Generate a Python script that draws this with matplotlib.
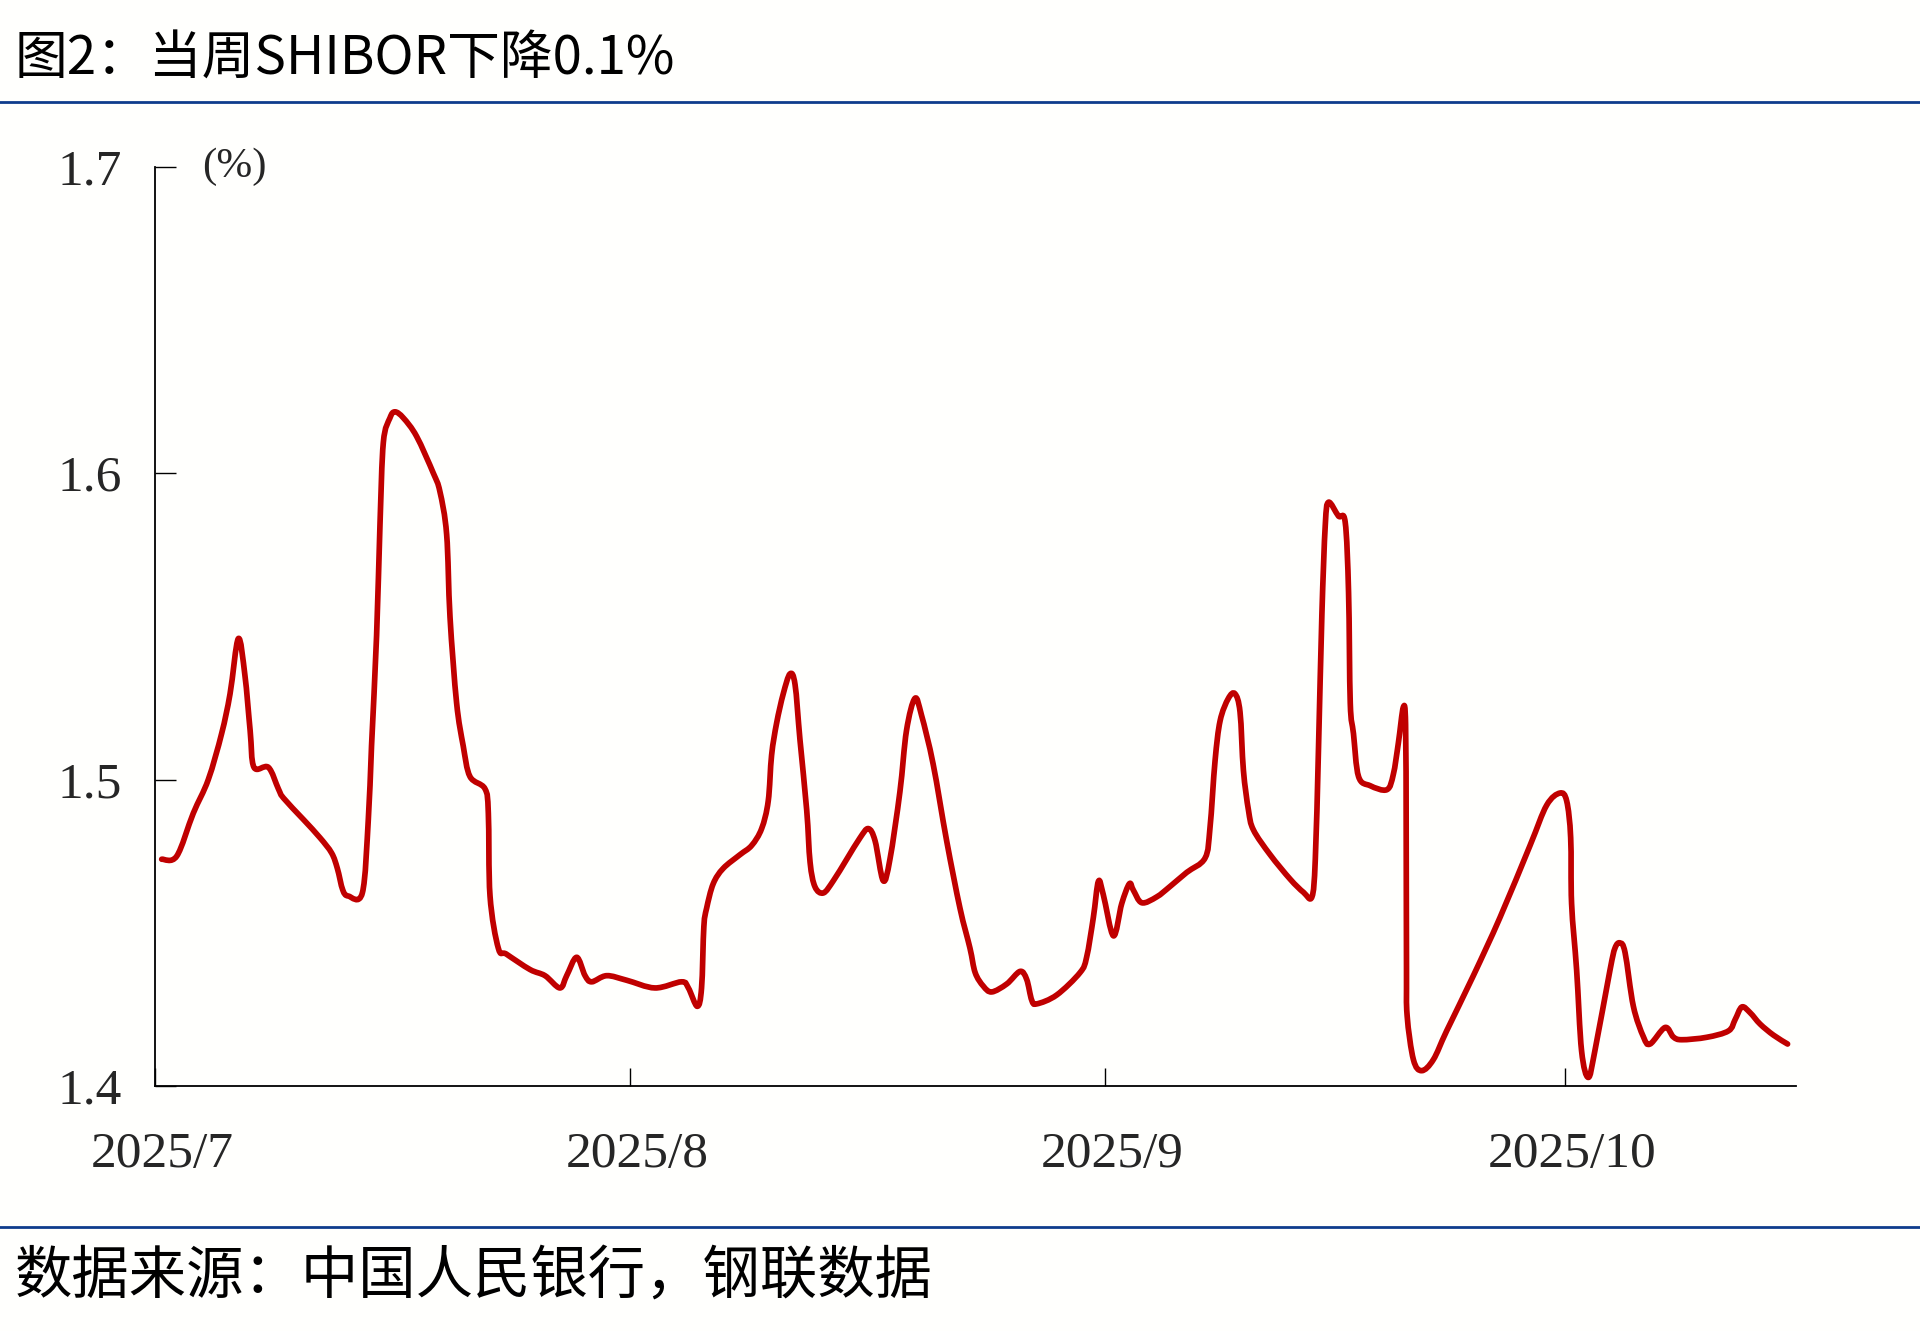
import matplotlib
matplotlib.use("Agg")
import matplotlib.pyplot as plt
import matplotlib.dates as mdates
import matplotlib.transforms as mtransforms
from matplotlib.path import Path
from matplotlib.patches import PathPatch
import datetime as dt

# ---- data ----
start_date = "2025-07-01"
day_offset = [
    0.43, 1.41, 2.49, 3.47, 4.34, 4.89, 5.43, 5.86, 6.20, 6.45, 7.39, 8.04, 8.37,
    9.67, 10.76, 11.52, 11.89, 12.24, 12.60, 13.52, 13.91, 14.12, 14.45, 14.67,
    14.89, 15.32, 15.65, 16.20, 17.06, 18.15, 18.58, 19.02, 19.24, 19.67, 20.10,
    20.54, 21.52, 21.74, 21.85, 22.39, 22.93, 24.46, 25.44, 26.41, 26.85, 27.50,
    28.05, 28.48, 29.46, 30.77, 32.61, 34.35, 34.79, 35.37, 35.65, 35.80, 35.98,
    36.41, 37.06, 38.16, 38.92, 39.57, 40.00, 40.22, 40.55, 40.98, 41.42, 41.75,
    42.07, 42.51, 42.73, 43.05, 43.60, 44.25, 45.12, 45.99, 46.53, 46.97, 47.50,
    47.94, 48.59, 49.02, 49.57, 50.00, 50.76, 51.64, 52.51, 53.16, 53.50, 54.03,
    54.58, 55.56, 56.43, 56.86, 57.19, 57.52, 58.82, 60.34, 60.77, 61.21, 61.54,
    61.86, 62.52, 63.06, 63.56, 63.82, 64.37, 65.34, 66.21, 67.30, 68.50, 68.82,
    69.15, 69.48, 70.02, 70.45, 70.78, 71.00, 71.33, 71.65, 72.74, 74.05, 74.92,
    75.47, 75.69, 75.90, 76.12, 76.34, 76.55, 77.20, 77.64, 77.86, 77.97, 78.18,
    78.51, 79.27, 80.36, 80.78, 81.11, 81.43, 81.58, 81.62, 81.64, 81.68, 82.09,
    82.63, 83.39, 84.26, 86.00, 87.74, 89.70, 90.78, 91.65, 92.09, 92.35, 92.41,
    92.74, 93.06, 93.50, 93.93, 94.91, 95.24, 95.57, 95.90, 96.44, 97.10, 97.53,
    98.51, 99.05, 99.60, 101.23, 102.65, 103.08, 103.52, 104.06, 104.71, 105.58,
    106.50,
]
shibor = [
    1.474, 1.475, 1.489, 1.500, 1.515, 1.528, 1.546, 1.534, 1.516, 1.504, 1.504, 1.497, 1.494,
    1.487, 1.481, 1.476, 1.471, 1.464, 1.462, 1.463, 1.487, 1.511, 1.547, 1.583,
    1.610, 1.618, 1.620, 1.618, 1.612, 1.600, 1.594, 1.580, 1.553, 1.525, 1.511,
    1.501, 1.497, 1.489, 1.462, 1.445, 1.443, 1.438, 1.436, 1.432, 1.436, 1.442,
    1.436, 1.434, 1.436, 1.4345, 1.432, 1.434, 1.432, 1.426, 1.432, 1.452, 1.458,
    1.466, 1.471, 1.4755, 1.4785, 1.484, 1.493, 1.508, 1.5185, 1.528, 1.5345, 1.531,
    1.513, 1.490, 1.473, 1.465, 1.463, 1.467, 1.474, 1.481, 1.484, 1.480, 1.467,
    1.474, 1.496, 1.516, 1.5265, 1.521, 1.505, 1.480, 1.458, 1.445, 1.437, 1.4326,
    1.4307, 1.4333, 1.4374, 1.4348, 1.428, 1.4268, 1.4297, 1.437, 1.442, 1.455, 1.4668,
    1.4624, 1.449, 1.4595, 1.466, 1.4639, 1.4598, 1.4617, 1.4651, 1.4697, 1.4744, 1.4843,
    1.5061, 1.5192, 1.5265, 1.528, 1.522, 1.503, 1.490, 1.4836, 1.4755, 1.4675, 1.4632,
    1.4617, 1.474, 1.5105, 1.554, 1.583, 1.5905, 1.586, 1.584, 1.561, 1.525, 1.515,
    1.501, 1.498, 1.4967, 1.5017, 1.512, 1.5236, 1.518, 1.481, 1.438, 1.423, 1.4086,
    1.405, 1.4086, 1.418, 1.436, 1.455, 1.4785, 1.4916, 1.4956, 1.493, 1.481, 1.4595,
    1.4377, 1.4115, 1.4028, 1.4115, 1.4377, 1.445, 1.4467, 1.4435, 1.426, 1.416, 1.4137,
    1.4191, 1.416, 1.4151, 1.4159, 1.418, 1.4217, 1.4258, 1.4239, 1.4202, 1.4166,
    1.4137,
]
tick_dates = ["2025-07-01", "2025-08-01", "2025-09-01", "2025-10-01"]
tick_labels = ["2025/7", "2025/8", "2025/9", "2025/10"]
y_ticks = [1.4, 1.5, 1.6, 1.7]
x_end_offset = 107.03

title = "图2：当周SHIBOR下降0.1%"
source = "数据来源：中国人民银行，钢联数据"
unit = "(%)"

# ---- figure ----
W, H = 1920, 1331
bg = "#fffffd"
fig = plt.figure(figsize=(W / 100, H / 100), dpi=100, facecolor=bg)

cjk = ["Noto Sans CJK SC", "DejaVu Sans"]
serif = ["Liberation Serif", "DejaVu Serif"]

ax = fig.add_axes([155.1 / W, 1 - 1086 / H, (1795.7 - 155.1) / W, (1086 - 166.7) / H])
ax.set_facecolor(bg)

t0 = mdates.date2num(dt.datetime.strptime(start_date, "%Y-%m-%d"))
xs = [t0 + d for d in day_offset]
ys = list(shibor)

# smoothed line (Catmull-Rom style Bezier through the read points, like a
# spreadsheet "smoothed line")
n = len(xs)
verts = [(xs[0], ys[0])]
codes = [Path.MOVETO]
for i in range(n - 1):
    x0_, y0_ = (xs[i - 1], ys[i - 1]) if i > 0 else (xs[i], ys[i])
    x1_, y1_ = xs[i], ys[i]
    x2_, y2_ = xs[i + 1], ys[i + 1]
    x3_, y3_ = (xs[i + 2], ys[i + 2]) if i + 2 < n else (xs[i + 1], ys[i + 1])
    c1 = (x1_ + (x2_ - x0_) / 6.0, y1_ + (y2_ - y0_) / 6.0)
    c2 = (x2_ - (x3_ - x1_) / 6.0, y2_ - (y3_ - y1_) / 6.0)
    verts += [c1, c2, (x2_, y2_)]
    codes += [Path.CURVE4, Path.CURVE4, Path.CURVE4]
patch = PathPatch(Path(verts, codes), facecolor="none", edgecolor="#C00000",
                  lw=4.1, joinstyle="round", capstyle="round", transform=ax.transData)
ax.add_patch(patch)

ax.set_xlim(t0, t0 + x_end_offset)
ax.set_ylim(y_ticks[0], y_ticks[-1])

ax.set_xticks([mdates.date2num(dt.datetime.strptime(s, "%Y-%m-%d")) for s in tick_dates])
ax.set_xticklabels(tick_labels)
ax.set_yticks(y_ticks)
ax.set_yticklabels([f"{v:.1f}" for v in y_ticks])

for s in ["top", "right"]:
    ax.spines[s].set_visible(False)
for s in ["left", "bottom"]:
    ax.spines[s].set_linewidth(1.3)
    ax.spines[s].set_color("#000000")

ax.tick_params(axis="x", direction="in", length=13, width=1.0, pad=32.5,
               labelsize=37, labelcolor="#262626", color="#000000")
ax.tick_params(axis="y", direction="in", length=15, width=1.0, pad=24,
               labelsize=37, labelcolor="#262626", color="#000000")
for lab in ax.get_xticklabels() + ax.get_yticklabels():
    lab.set_fontfamily(serif)

offset = mtransforms.ScaledTranslation(7 / 100, 0, fig.dpi_scale_trans)
for lab in ax.get_xticklabels():
    lab.set_transform(lab.get_transform() + offset)

# unit label
fig.text(202 / W, 1 - 167 / H, unit, fontsize=31, family=serif, color="#262626",
         ha="left", va="center")

# title / source
fig.text(15 / W, 1 - 59 / H, title, fontsize=38, family=cjk, color="#000000",
         ha="left", va="center")
fig.text(15 / W, 1 - 1276 / H, source, fontsize=41.3, family=cjk, color="#000000",
         ha="left", va="center")

# blue rules
rule_color = "#0e3c8c"
fig.add_artist(plt.Line2D([0, 1], [1 - 101.6 / H, 1 - 101.6 / H], transform=fig.transFigure,
                          color=rule_color, lw=2.0))
fig.add_artist(plt.Line2D([0, 1], [1 - 1227 / H, 1 - 1227 / H], transform=fig.transFigure,
                          color=rule_color, lw=2.0))

fig.savefig("out.png", dpi=100, facecolor=bg)
